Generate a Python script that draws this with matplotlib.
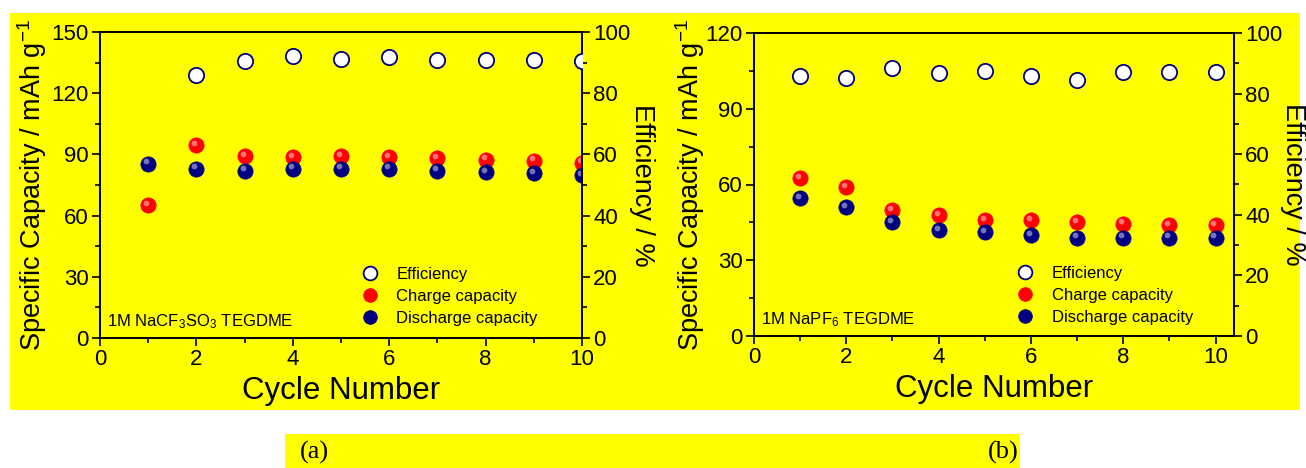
import matplotlib
matplotlib.use("Agg")
import matplotlib.pyplot as plt
from matplotlib.patches import Rectangle
from matplotlib.ticker import MultipleLocator
from matplotlib.transforms import offset_copy

plt.rcParams['font.family'] = ['Liberation Sans', 'DejaVu Sans']
plt.rcParams['mathtext.fontset'] = 'custom'
plt.rcParams['mathtext.rm'] = 'Liberation Sans'
plt.rcParams['mathtext.it'] = 'Liberation Sans:italic'

cycles = [1, 2, 3, 4, 5, 6, 7, 8, 9, 10]

# (a) 1M NaCF3SO3 TEGDME
eff_a = [None, 86.0, 90.5, 92.0, 91.2, 91.8, 90.8, 90.8, 90.8, 90.5]
charge_a = [65.0, 94.5, 89.0, 88.5, 89.0, 88.5, 88.0, 87.5, 87.0, 86.0]
discharge_a = [85.5, 83.0, 82.0, 83.0, 83.0, 83.0, 82.0, 81.5, 81.0, 80.0]

# (b) 1M NaPF6 TEGDME
eff_b = [85.8, 85.0, 88.3, 86.7, 87.5, 85.8, 84.6, 87.1, 87.1, 87.1]
charge_b = [62.5, 59.0, 50.0, 48.0, 46.0, 46.0, 45.0, 44.5, 44.0, 44.0]
discharge_b = [54.5, 51.0, 45.0, 42.0, 41.0, 40.0, 39.0, 39.0, 39.0, 39.0]

labels = ['Efficiency', 'Charge capacity', 'Discharge capacity']
x_label = 'Cycle Number'
y_label = 'Specific Capacity / mAh g$^{\\mathregular{-1}}$'
y2_label = 'Efficiency / %'
notes = ['1M NaCF$_\\mathregular{3}$SO$_\\mathregular{3}$ TEGDME',
         '1M NaPF$_\\mathregular{6}$ TEGDME']
panel_tags = ['(a)', '(b)']

YEL = '#ffff00'
RED = '#ff0000'
NAVY = '#000080'

fig = plt.figure(figsize=(13.06, 4.68), dpi=100)
fig.patch.set_facecolor('white')
W, H = 1306.0, 468.0
fig.patches.append(Rectangle((10 / W, 1 - 410 / H), 1290 / W, 397 / H,
                             transform=fig.transFigure, facecolor=YEL,
                             edgecolor='none', zorder=-10))
fig.patches.append(Rectangle((285 / W, 0), 735 / W, 34 / H,
                             transform=fig.transFigure, facecolor=YEL,
                             edgecolor='none', zorder=-10))


def sphere(ax, x, y, color, ms):
    pts = [(a, b) for a, b in zip(x, y) if b is not None]
    xs = [p[0] for p in pts]
    ys = [p[1] for p in pts]
    h, = ax.plot(xs, ys, 'o', color=color, mec=color, ms=ms, mew=0.5,
                 ls='none', zorder=3)
    tr = offset_copy(ax.transData, fig=fig, x=-1.5, y=1.6, units='points')
    ax.plot(xs, ys, 'o', color='white', alpha=0.45, mec='none', ms=ms * 0.38,
            ls='none', transform=tr, zorder=4)
    return h


def panel(rect, eff, charge, discharge, ymax, xmax, note, leg_anchor,
          ylpad, y2pad):
    ax = fig.add_axes(rect)
    ax.set_facecolor(YEL)
    ax.patch.set_alpha(0)
    ax2 = ax.twinx()
    ax2.patch.set_alpha(0)
    ms = 11
    hc = sphere(ax, cycles, charge, RED, ms)
    hd = sphere(ax, cycles, discharge, NAVY, ms)
    xs = [a for a, b in zip(cycles, eff) if b is not None]
    ys = [b for b in eff if b is not None]
    he, = ax2.plot(xs, ys, 'o', mfc='white', mec=NAVY, mew=1.3, ms=ms,
                   ls='none', zorder=3)
    ax.set_xlim(0, xmax)
    ax.set_ylim(0, ymax)
    ax2.set_ylim(0, 100)
    ax.xaxis.set_major_locator(MultipleLocator(2))
    ax.xaxis.set_minor_locator(MultipleLocator(1))
    ax.yaxis.set_major_locator(MultipleLocator(30))
    ax.yaxis.set_minor_locator(MultipleLocator(15))
    ax2.yaxis.set_major_locator(MultipleLocator(20))
    ax2.yaxis.set_minor_locator(MultipleLocator(10))
    for a in (ax, ax2):
        a.tick_params(which='major', direction='out', length=6, width=1.2,
                      labelsize=16, pad=2)
        a.tick_params(which='minor', direction='out', length=3.5, width=1.2)
        for s in a.spines.values():
            s.set_linewidth(1.3)
    ax.set_xlabel(x_label, fontsize=22.5, labelpad=4)
    ax.set_ylabel(y_label, fontsize=19.5, labelpad=ylpad)
    ax2.set_ylabel(y2_label, fontsize=19.5, rotation=270, labelpad=y2pad)
    ax.text(0.015, 0.055, note, transform=ax.transAxes, fontsize=12,
            ha='left', va='center')
    ax2.legend([he, hc, hd], labels, loc='lower left', bbox_to_anchor=leg_anchor,
               frameon=False, fontsize=12, handlelength=1.0,
               handletextpad=1.1, labelspacing=0.42, borderaxespad=0,
               borderpad=0.2, markerscale=0.9)
    return ax, ax2


panel([100 / W, 1 - 338 / H, 482 / W, 306 / H], eff_a, charge_a, discharge_a,
      150, 10, notes[0], (0.535, 0.028), 2, 18)
panel([754 / W, 1 - 336 / H, 480 / W, 303 / H], eff_b, charge_b, discharge_b,
      120, 10.4, notes[1], (0.54, 0.025), -1, 17)

fig.text(300 / W, 1 - 452 / H, panel_tags[0], fontsize=19,
         family=['Liberation Serif'], ha='left', va='center')
fig.text(1019 / W, 1 - 452 / H, panel_tags[1], fontsize=19,
         family=['Liberation Serif'], ha='right', va='center')

fig.savefig('out.png', dpi=100, facecolor=fig.get_facecolor())
